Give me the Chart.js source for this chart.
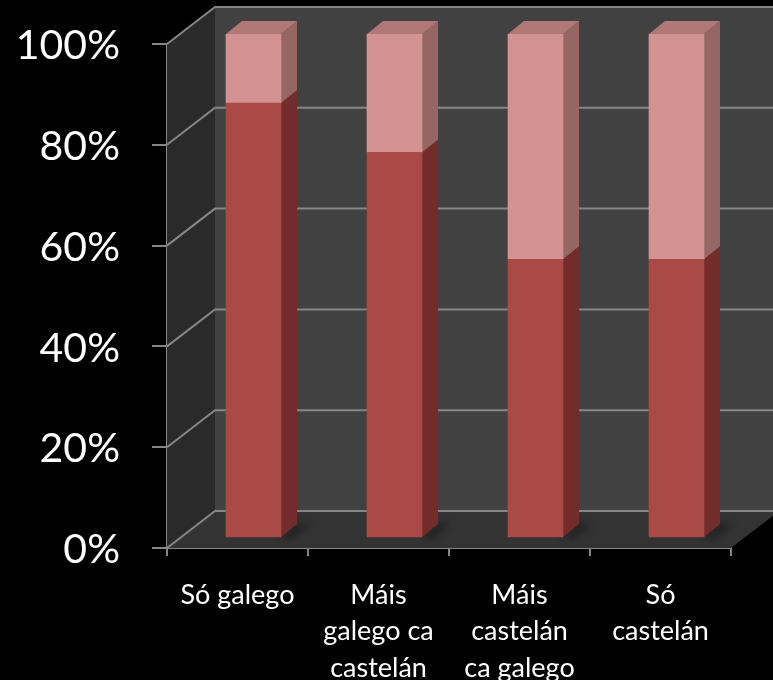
<!DOCTYPE html>
<html>
<head>
<meta charset="utf-8">
<style>
  html, body { margin: 0; padding: 0; background: #000; overflow: hidden; }
  canvas { display: block; }
</style>
<script src="https://cdn.jsdelivr.net/npm/chart.js@4"></script>
</head>
<body>
<canvas id="canvas-bar" width="773" height="680"></canvas>
<script>
const categories = [
  ["Só galego"],
  ["Máis", "galego ca", "castelán"],
  ["Máis", "castelán", "ca galego"],
  ["Só", "castelán"],
];
const lowerValues = [86.3, 76.5, 55.3, 55.3];
const upperValues = [13.7, 23.5, 44.7, 44.7];
const tickValues = [0, 20, 40, 60, 80, 100];

const lineColor = "#868686";
const wallDepth = { x: 48, y: -37 };
const barDepth = { x: 16, y: -13 };
const barShift = { x: 16, y: -10 };

function poly(ctx, pts, color) {
  ctx.fillStyle = color;
  ctx.beginPath();
  pts.forEach((p, i) => (i ? ctx.lineTo(p[0], p[1]) : ctx.moveTo(p[0], p[1])));
  ctx.closePath();
  ctx.fill();
}

// walls and floor behind the bars
const walls3d = {
  id: "walls3d",
  beforeDatasetsDraw(chart) {
    const { ctx, chartArea: a, scales } = chart;
    const dx = wallDepth.x, dy = wallDepth.y;
    ctx.save();
    poly(ctx, [[a.left + dx, a.top + dy], [a.right + dx, a.top + dy], [a.right + dx, a.bottom + dy], [a.left + dx, a.bottom + dy]], "#404140");
    poly(ctx, [[a.left, a.top], [a.left + dx, a.top + dy], [a.left + dx, a.bottom + dy], [a.left, a.bottom]], "#2a2a2a");
    poly(ctx, [[a.left, a.bottom], [a.left + dx, a.bottom + dy], [a.right + dx, a.bottom + dy], [a.right, a.bottom]], "#333333");
    ctx.strokeStyle = lineColor;
    ctx.lineWidth = 2;
    tickValues.forEach((v) => {
      const y = scales.y.getPixelForValue(v);
      ctx.beginPath();
      ctx.moveTo(a.left, y);
      ctx.lineTo(a.left + dx, y + dy);
      ctx.lineTo(a.right + dx, y + dy);
      ctx.stroke();
    });
    ctx.restore();

    // bar sides and tops, then move the canvas for the fronts
    ctx.save();
    ctx.translate(barShift.x, barShift.y);
    const lower = chart.getDatasetMeta(0).data;
    const upper = chart.getDatasetMeta(1).data;
    lower.forEach((bar) => {
      const r = bar.x + bar.width / 2;
      ctx.save();
      ctx.filter = "blur(4px)";
      poly(ctx, [[r, bar.base], [r + barDepth.x, bar.base + barDepth.y], [r + barDepth.x + 12, bar.base + barDepth.y], [r + 8, bar.base + 2]], "rgba(0,0,0,0.45)");
      ctx.restore();
      poly(ctx, [[r, bar.y], [r + barDepth.x, bar.y + barDepth.y], [r + barDepth.x, bar.base + barDepth.y], [r, bar.base]], "#722c2a");
    });
    upper.forEach((bar) => {
      const l = bar.x - bar.width / 2;
      const r = bar.x + bar.width / 2;
      poly(ctx, [[r, bar.y], [r + barDepth.x, bar.y + barDepth.y], [r + barDepth.x, bar.base + barDepth.y], [r, bar.base]], "#966664");
      poly(ctx, [[l, bar.y], [l + barDepth.x, bar.y + barDepth.y], [r + barDepth.x, bar.y + barDepth.y], [r, bar.y]], "#b07876");
    });
    ctx.restore();

    ctx.save();
    ctx.translate(barShift.x, barShift.y);
  },
  afterDatasetsDraw(chart) {
    chart.ctx.restore();
  },
};

window.onload = function () {
  const ctx = document.getElementById("canvas-bar");

  const data = {
    labels: categories,
    datasets: [
      {
        label: "Lower",
        backgroundColor: "#a94a47",
        data: lowerValues,
        barThickness: 55,
      },
      {
        label: "Upper",
        backgroundColor: "#d39392",
        data: upperValues,
        barThickness: 55,
      },
    ],
  };

  const config = {
    type: "bar",
    data,
    plugins: [walls3d],
    options: {
      responsive: false,
      animation: false,
      layout: { padding: { top: 44, right: 42 } },
      scales: {
        x: {
          stacked: true,
          afterFit(scale) {
            scale.height = 132;
            scale.paddingLeft = 0;
            scale.paddingRight = 0;
          },
          border: { color: lineColor, width: 2 },
          grid: { color: lineColor, lineWidth: 2, drawOnChartArea: false, tickLength: 8 },
          ticks: {
            color: "#ffffff",
            maxRotation: 0,
            autoSkip: false,
            padding: 21,
            font: { family: "Lato", size: 27, lineHeight: 1.35 },
          },
        },
        y: {
          stacked: true,
          min: 0,
          max: 100,
          afterFit(scale) {
            scale.width = 167;
            scale.paddingTop = 0;
            scale.paddingBottom = 0;
          },
          afterBuildTicks(scale) {
            scale.ticks = tickValues.map((value) => ({ value }));
          },
          border: { color: lineColor, width: 2 },
          grid: { color: lineColor, lineWidth: 2, drawOnChartArea: false, tickLength: 15 },
          ticks: {
            color: "#ffffff",
            padding: 32,
            labelOffset: 2,
            font: { family: "Lato", size: 41 },
            callback(value) {
              return value + "%";
            },
          },
        },
      },
      plugins: {
        legend: { display: false },
        tooltip: { enabled: false },
      },
    },
  };

  const myChart = new Chart(ctx, config);
};
</script>
</body>
</html>
